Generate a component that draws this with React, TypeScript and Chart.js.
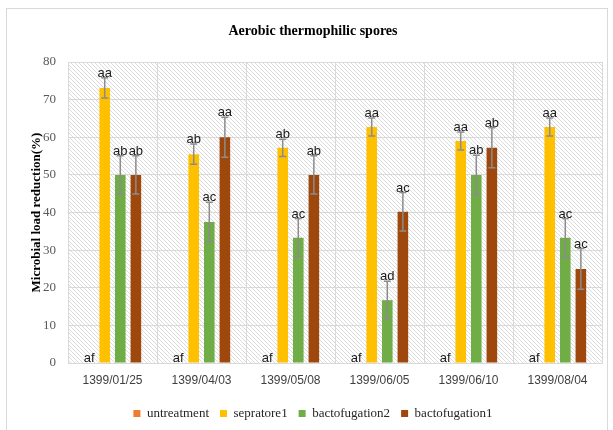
import React, { useEffect, useRef } from "react";
import { Chart, registerables } from "chart.js";

Chart.register(...registerables);

const categories = ["1399/01/25", "1399/04/03", "1399/05/08", "1399/06/05", "1399/06/10", "1399/08/04"];
const seriesNames = ["untreatment", "sepratore1", "bactofugation2", "bactofugation1"];

const untreatment = [0, 0, 0, 0, 0, 0];
const sepratore1 = [73.1, 55.5, 57.2, 62.7, 59.0, 62.7];
const bactofugation2 = [50, 37.5, 33.3, 16.7, 50, 33.3];
const bactofugation1 = [50, 60, 50, 40.2, 57.2, 25];

const untreatmentErr = [0, 0, 0, 0, 0, 0];
const sepratore1Err = [2.7, 2.7, 2.3, 2.4, 2.4, 2.4];
const bactofugation2Err = [5.1, 5.2, 5.1, 5.0, 5.2, 5.1];
const bactofugation1Err = [5.1, 5.3, 5.1, 5.1, 5.3, 5.4];

const untreatmentLetters = ["af", "af", "af", "af", "af", "af"];
const sepratore1Letters = ["aa", "ab", "ab", "aa", "aa", "aa"];
const bactofugation2Letters = ["ab", "ac", "ac", "ad", "ab", "ac"];
const bactofugation1Letters = ["ab", "aa", "ab", "ac", "ab", "ac"];

const colors = ["#ED7D31", "#FFC000", "#70AD47", "#9E480E"];

const yTicks = [0, 10, 20, 30, 40, 50, 60, 70, 80];

export default function App() {
  const ref = useRef<HTMLCanvasElement | null>(null);

  useEffect(() => {
    if (!ref.current) return;

    const pc = document.createElement("canvas");
    pc.width = 4;
    pc.height = 4;
    const pctx = pc.getContext("2d")!;
    pctx.fillStyle = "#ffffff";
    pctx.fillRect(0, 0, 4, 4);
    pctx.strokeStyle = "#d2d2d2";
    pctx.lineWidth = 0.8;
    pctx.beginPath();
    pctx.moveTo(-1, -1);
    pctx.lineTo(5, 5);
    pctx.moveTo(3, -1);
    pctx.lineTo(5, 1);
    pctx.moveTo(-1, 3);
    pctx.lineTo(1, 5);
    pctx.stroke();

    const bgPlugin = {
      id: "bgHatch",
      beforeDraw(chart: any) {
        const { ctx, chartArea } = chart;
        ctx.save();
        ctx.fillStyle = "#ffffff";
        ctx.fillRect(0, 0, chart.width, chart.height);
        ctx.strokeStyle = "#d9d9d9";
        ctx.lineWidth = 1;
        ctx.strokeRect(6.5, 8.5, 601, 430);
        const pat = ctx.createPattern(pc, "repeat");
        ctx.fillStyle = pat;
        ctx.fillRect(chartArea.left, chartArea.top, chartArea.right - chartArea.left, chartArea.bottom - chartArea.top);
        ctx.restore();
      },
    };

    const errPlugin = {
      id: "errBars",
      afterDatasetsDraw(chart: any) {
        const { ctx } = chart;
        const y = chart.scales.y;
        chart.data.datasets.forEach((ds: any, i: number) => {
          const meta = chart.getDatasetMeta(i);
          meta.data.forEach((bar: any, j: number) => {
            const v = ds.data[j];
            const e = ds.errors[j];
            const x = bar.x;
            let topY = y.getPixelForValue(v);
            ctx.save();
            if (e > 0) {
              const yt = y.getPixelForValue(v + e);
              const yb = y.getPixelForValue(v - e);
              ctx.strokeStyle = "#8c8c8c";
              ctx.lineWidth = 1.5;
              ctx.beginPath();
              ctx.moveTo(x, yt);
              ctx.lineTo(x, yb);
              ctx.moveTo(x - 3.5, yt);
              ctx.lineTo(x + 3.5, yt);
              ctx.moveTo(x - 3.5, yb);
              ctx.lineTo(x + 3.5, yb);
              ctx.stroke();
              topY = yt;
            }
            ctx.fillStyle = "#1a1a1a";
            ctx.font = "13px 'Liberation Sans', sans-serif";
            ctx.textAlign = "center";
            ctx.textBaseline = "alphabetic";
            ctx.fillText(ds.letters[j], x, topY - 1);
            ctx.restore();
          });
        });
      },
    };

    const chart = new Chart(ref.current, {
      type: "bar",
      data: {
        labels: categories,
        datasets: [
          { label: seriesNames[0], data: untreatment, backgroundColor: colors[0], errors: untreatmentErr, letters: untreatmentLetters } as any,
          { label: seriesNames[1], data: sepratore1, backgroundColor: colors[1], errors: sepratore1Err, letters: sepratore1Letters } as any,
          { label: seriesNames[2], data: bactofugation2, backgroundColor: colors[2], errors: bactofugation2Err, letters: bactofugation2Letters } as any,
          { label: seriesNames[3], data: bactofugation1, backgroundColor: colors[3], errors: bactofugation1Err, letters: bactofugation1Letters } as any,
        ],
      },
      options: {
        responsive: false,
        animation: false,
        layout: { padding: { left: 24, right: 11, top: 0, bottom: 0 } },
        datasets: { bar: { categoryPercentage: 0.7, barPercentage: 0.68 } },
        plugins: {
          title: {
            display: true,
            text: "Aerobic thermophilic spores",
            color: "#000000",
            font: { family: "'Liberation Serif', serif", size: 14, weight: "bold" },
            padding: { top: 22.6, bottom: 22.6 },
          },
          legend: {
            position: "bottom",
            labels: {
              boxWidth: 7,
              boxHeight: 7,
              padding: 11,
              color: "#262626",
              font: { family: "'Liberation Serif', serif", size: 13 },
            },
          },
          tooltip: { enabled: false },
        },
        scales: {
          x: {
            grid: { color: "#d9d9d9", drawTicks: false, offset: true },
            border: { color: "#d9d9d9" },
            ticks: {
              color: "#404040",
              padding: 10,
              font: { family: "'Liberation Sans', sans-serif", size: 12 },
              maxRotation: 0,
            },
            afterFit(scale: any) {
              scale.height = 33;
            },
          },
          y: {
            min: 0,
            max: 80,
            afterBuildTicks(scale: any) {
              scale.ticks = yTicks.map((v) => ({ value: v }));
            },
            grid: { color: "#d9d9d9", drawTicks: false },
            border: { color: "#d9d9d9" },
            ticks: {
              color: "#595959",
              padding: 12,
              font: { family: "'Liberation Serif', serif", size: 13 },
            },
            title: {
              display: true,
              text: "Microbial load reduction(%)",
              color: "#000000",
              font: { family: "'Liberation Serif', serif", size: 13, weight: "bold" },
              padding: { top: 5, bottom: 0 },
            },
            afterFit(scale: any) {
              scale.width = 44;
            },
          },
        },
      } as any,
      plugins: [bgPlugin, errPlugin],
    });

    return () => chart.destroy();
  }, []);

  return (
    <div style={{ position: "absolute", left: 0, top: 0, width: 613, height: 430 }}>
      <canvas ref={ref} width={613} height={430} style={{ display: "block" }} />
    </div>
  );
}
